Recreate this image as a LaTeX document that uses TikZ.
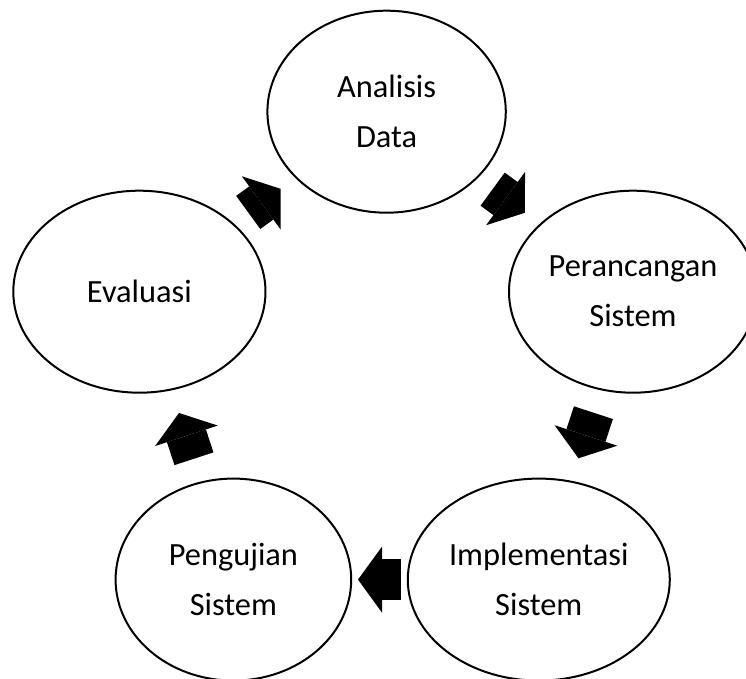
\documentclass[tikz,border=0pt]{standalone}
\usepackage{fontspec}
\setmainfont{Carlito}
\usetikzlibrary{shapes.geometric,arrows.meta}
\def\hei{101pt}

\begin{document}
\begin{tikzpicture}[x=0.5pt,y=-0.5pt]
\tikzset{phase/.style={draw,ellipse,line width=1pt,inner sep=0pt,minimum height=\hei,align=center,font=\fontsize{16.2}{25}\selectfont}}
\tikzset{blok/.style={line width=20.5pt,-{Triangle[length=12pt,width=33pt,line width=0pt]}}}
\useasboundingbox (0,0) rectangle (746,679);
\node[phase,minimum width=119.2pt] (an) at (386.6,111.7) {Analisis\\Data};
\node[phase,minimum width=124pt] (pe) at (633,291.7) {Perancangan\\Sistem};
\node[phase,minimum width=131pt] (im) at (538.8,579.6) {Implementasi\\Sistem};
\node[phase,minimum width=117.8pt] (pg) at (233.4,579.6) {Pengujian\\Sistem};
\node[phase,minimum width=126.1pt] (ev) at (139.4,291.7) {Evaluasi};
% panah antar tahap
\draw[blok,shorten <=9.1pt,shorten >=9.1pt] (ev) -- (an);
\draw[blok,shorten <=9.25pt,shorten >=9.25pt] (an) -- (pe);
\draw[blok,shorten <=11.8pt,shorten >=11.8pt] (pe) -- (im);
\draw[blok,shorten <=2.9pt,shorten >=2.9pt] (im) -- (pg);
\draw[blok,shorten <=11.9pt,shorten >=11.9pt] (pg) -- (ev);
\end{tikzpicture}
\end{document}
